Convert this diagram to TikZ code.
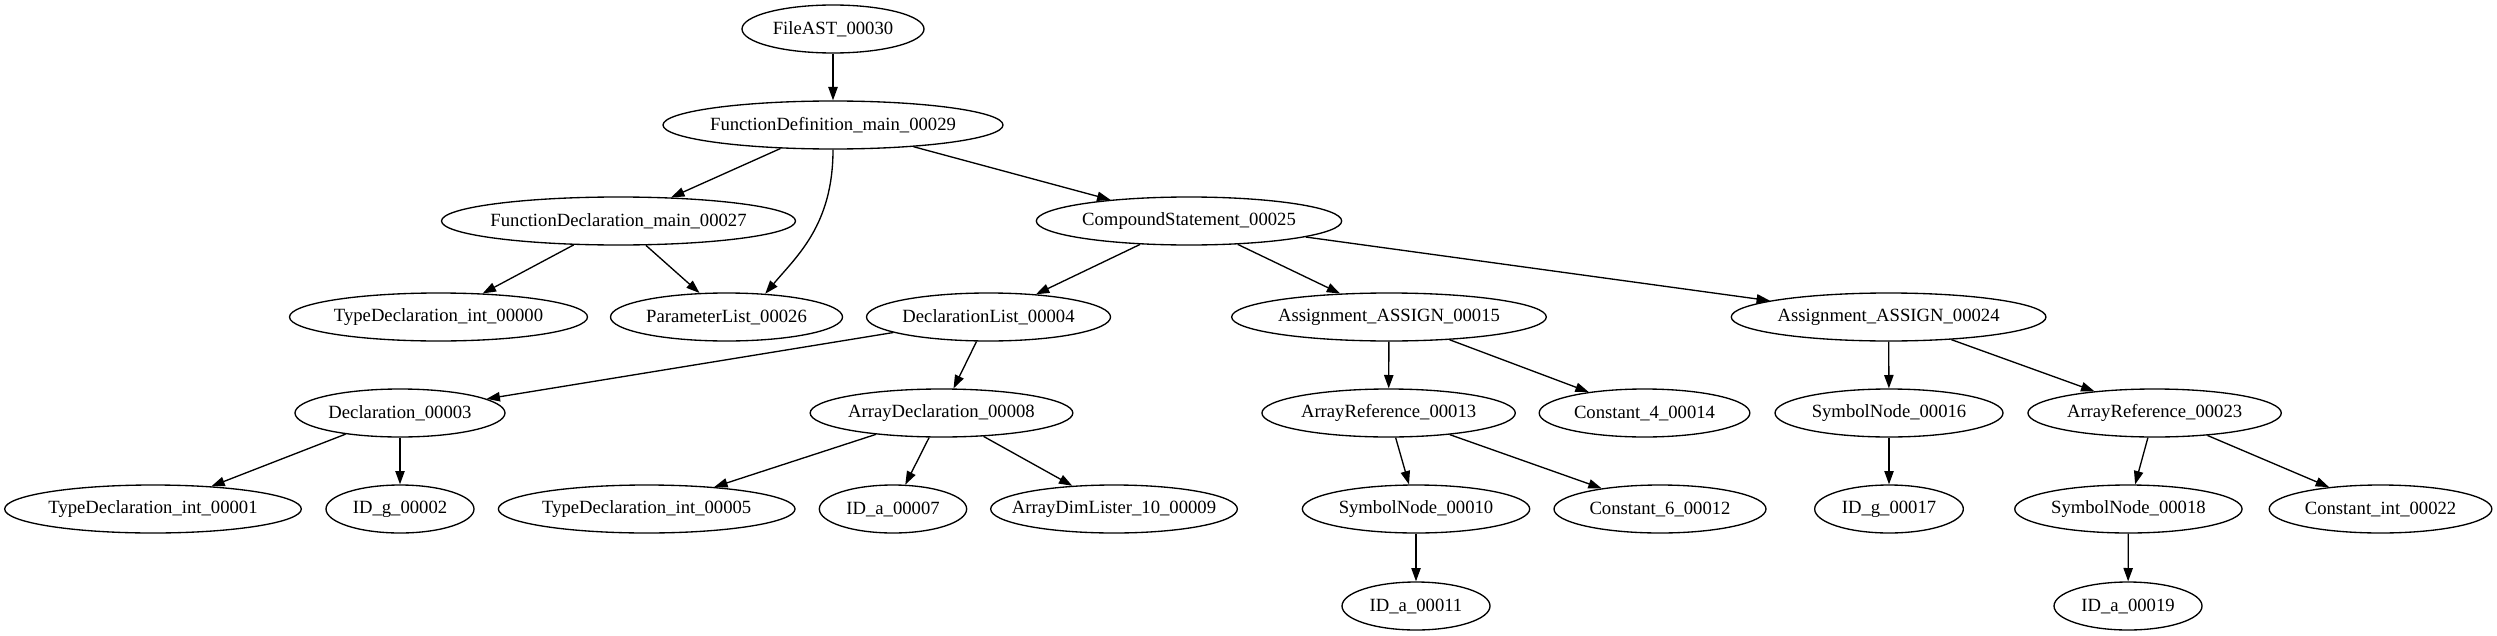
\documentclass[tikz,border=0pt]{standalone}
\usepackage{fontspec}
\setmainfont{Liberation Serif}
\usetikzlibrary{shapes.geometric,arrows.meta}
\newcommand\lbl[1]{\makebox[0pt]{#1}}
\tikzset{
  astnode/.style={ellipse, draw, line width=1pt, inner sep=0pt, minimum height=36pt,
    font=\fontsize{14pt}{16pt}\selectfont},
  edge/.style={line width=1pt, -{Triangle[length=10pt,width=7pt]}}
}
\begin{document}
\begin{tikzpicture}[x=0.75pt,y=-0.75pt]
\useasboundingbox (0,0) rectangle (2497,635);
% rank 0
\node[astnode, minimum width=136.5pt] (fa) at (833,29) {\lbl{FileAST\_00030}};
% rank 1
\node[astnode, minimum width=255pt] (fd) at (833,125) {\lbl{FunctionDefinition\_main\_00029}};
% rank 2
\node[astnode, minimum width=265.5pt] (fdec) at (618.5,221) {\lbl{FunctionDeclaration\_main\_00027}};
\node[astnode, minimum width=229pt] (cs) at (1189,221) {\lbl{CompoundStatement\_00025}};
% rank 3
\node[astnode, minimum width=223.5pt] (td0) at (438.5,317) {\lbl{TypeDeclaration\_int\_00000}};
\node[astnode, minimum width=174pt] (pl) at (726.5,317) {\lbl{ParameterList\_00026}};
\node[astnode, minimum width=183pt] (dl) at (988.5,317) {\lbl{DeclarationList\_00004}};
\node[astnode, minimum width=236pt] (as15) at (1389,317) {\lbl{Assignment\_ASSIGN\_00015}};
\node[astnode, minimum width=236pt] (as24) at (1888.6,317) {\lbl{Assignment\_ASSIGN\_00024}};
% rank 4
\node[astnode, minimum width=157.5pt] (d3) at (400,413) {\lbl{Declaration\_00003}};
\node[astnode, minimum width=197pt] (ad8) at (941.5,413) {\lbl{ArrayDeclaration\_00008}};
\node[astnode, minimum width=190pt] (ar13) at (1388.6,413) {\lbl{ArrayReference\_00013}};
\node[astnode, minimum width=158pt] (c4) at (1644.5,413) {\lbl{Constant\_4\_00014}};
\node[astnode, minimum width=171pt] (sn16) at (1889,413) {\lbl{SymbolNode\_00016}};
\node[astnode, minimum width=190pt] (ar23) at (2154.6,413) {\lbl{ArrayReference\_00023}};
% rank 5
\node[astnode, minimum width=222.5pt] (td1) at (153,509) {\lbl{TypeDeclaration\_int\_00001}};
\node[astnode, minimum width=111pt] (idg2) at (400,509) {\lbl{ID\_g\_00002}};
\node[astnode, minimum width=222.5pt] (td5) at (646.7,509) {\lbl{TypeDeclaration\_int\_00005}};
\node[astnode, minimum width=110.5pt] (ida7) at (893,509) {\lbl{ID\_a\_00007}};
\node[astnode, minimum width=185pt] (adl) at (1114,509) {\lbl{ArrayDimLister\_10\_00009}};
\node[astnode, minimum width=170.5pt] (sn10) at (1416,509) {\lbl{SymbolNode\_00010}};
\node[astnode, minimum width=159pt] (c6) at (1660,509) {\lbl{Constant\_6\_00012}};
\node[astnode, minimum width=111.5pt] (idg17) at (1889,509) {\lbl{ID\_g\_00017}};
\node[astnode, minimum width=170.5pt] (sn18) at (2128.4,509) {\lbl{SymbolNode\_00018}};
\node[astnode, minimum width=167pt] (ci22) at (2380.5,509) {\lbl{Constant\_int\_00022}};
% rank 6
\node[astnode, minimum width=111pt] (ida11) at (1416,606) {\lbl{ID\_a\_00011}};
\node[astnode, minimum width=111pt] (ida19) at (2128,606) {\lbl{ID\_a\_00019}};
% edges
\draw[edge] (fa) -- (fd);
\draw[edge] (fd) -- (fdec);
\draw[edge] (fd.south) .. controls +(0,75) and +(32,-38) .. (pl.31);
\draw[edge] (fd) -- (cs);
\draw[edge] (fdec) -- (td0);
\draw[edge] (fdec) -- (pl);
\draw[edge] (cs) -- (dl);
\draw[edge] (cs) -- (as15);
\draw[edge] (cs) -- (as24);
\draw[edge] (dl) -- (d3);
\draw[edge] (dl) -- (ad8);
\draw[edge] (d3) -- (td1);
\draw[edge] (d3) -- (idg2);
\draw[edge] (ad8) -- (td5);
\draw[edge] (ad8) -- (ida7);
\draw[edge] (ad8) -- (adl);
\draw[edge] (as15) -- (ar13);
\draw[edge] (as15) -- (c4);
\draw[edge] (ar13) -- (sn10);
\draw[edge] (ar13) -- (c6);
\draw[edge] (sn10) -- (ida11);
\draw[edge] (as24) -- (sn16);
\draw[edge] (as24) -- (ar23);
\draw[edge] (sn16) -- (idg17);
\draw[edge] (ar23) -- (sn18);
\draw[edge] (ar23) -- (ci22);
\draw[edge] (sn18) -- (ida19);
\end{tikzpicture}
\end{document}
